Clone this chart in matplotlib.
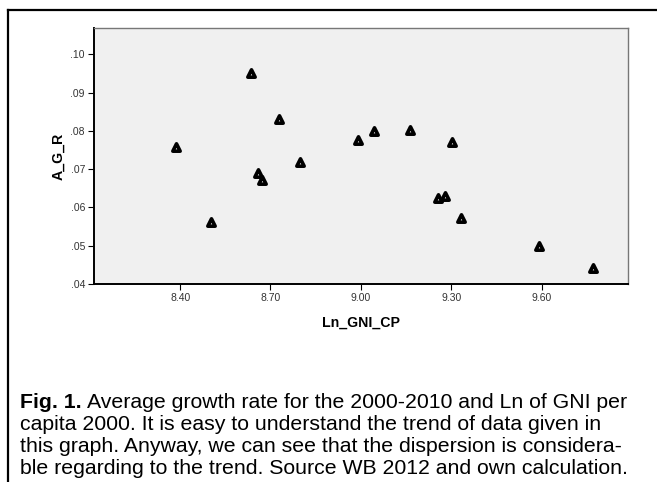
import matplotlib
matplotlib.use("Agg")
from matplotlib import pyplot as plt
from matplotlib.lines import Line2D

# data
ln_gni_cp = [8.387, 8.504, 8.636, 8.659, 8.673, 8.727, 8.799, 8.990,
             9.045, 9.162, 9.255, 9.279, 9.301, 9.332, 9.590, 9.772]
a_g_r = [0.0757, 0.0561, 0.0952, 0.0690, 0.0672, 0.0832, 0.0720, 0.0776,
         0.0801, 0.0802, 0.0626, 0.0630, 0.0772, 0.0572, 0.0498, 0.0442]
x_ticks = [8.40, 8.70, 9.00, 9.30, 9.60]
y_ticks = [0.04, 0.05, 0.06, 0.07, 0.08, 0.09, 0.10]
y_tick_labels = [".04", ".05", ".06", ".07", ".08", ".09", ".10"]

caption = ["Average growth rate for the 2000-2010 and Ln of GNI per",
           "capita 2000. It is easy to understand the trend of data given in",
           "this graph. Anyway, we can see that the dispersion is considera-",
           "ble regarding to the trend. Source WB 2012 and own calculation."]

W, H = 657, 482
fig = plt.figure(figsize=(W/100, H/100), dpi=100)
plt.rcParams['font.family'] = ['Liberation Sans', 'DejaVu Sans']

ax = fig.add_axes([94/W, 1 - 284/H, (628-94)/W, (284-28)/H])
ax.set_facecolor("#f0f0f0")
ax.scatter(ln_gni_cp, a_g_r, marker="^", s=28, facecolor="white",
           edgecolor="black", linewidth=2.6, zorder=3)
ax.set_xlim(8.114, 9.887)
ax.set_ylim(0.04, 0.1069)
ax.set_xticks(x_ticks)
ax.set_xticklabels(["%.2f" % v for v in x_ticks])
ax.set_yticks(y_ticks)
ax.set_yticklabels(y_tick_labels)
ax.tick_params(direction="out", length=4.5, width=0.8, labelsize=7.5,
               labelcolor="#333333", pad=2)
for s in ["left", "bottom"]:
    ax.spines[s].set_color("black")
    ax.spines[s].set_linewidth(1.4)
for s in ["top", "right"]:
    ax.spines[s].set_color("#777777")
    ax.spines[s].set_linewidth(1.0)
ax.set_xlabel("Ln_GNI_CP", fontsize=10.2, fontweight="bold", labelpad=9)
ax.set_ylabel("A_G_R", fontsize=10.2, fontweight="bold", labelpad=4)

# outer frame (top and left edges only)
fig.add_artist(Line2D([8/W, 1], [1 - 9.5/H, 1 - 9.5/H], color="black", lw=1.6))
fig.add_artist(Line2D([8/W, 8/W], [0, 1 - 9.5/H], color="black", lw=1.6))

cap_font = ['Liberation Sans', 'DejaVu Sans']
fs = 15.3
y0 = 402
head = fig.text(20/W, 1 - y0/H, "Fig. 1.", fontsize=fs, fontweight="bold",
                family=cap_font, va="center")
r = fig.canvas.get_renderer()
bb = head.get_window_extent(renderer=r)
fig.text((bb.x1 + 5)/W, 1 - y0/H, caption[0], fontsize=fs, family=cap_font,
         va="center")
for i, line in enumerate(caption[1:]):
    fig.text(20/W, 1 - (y0 + 22*(i+1))/H, line, fontsize=fs,
             family=cap_font, va="center")

fig.savefig("out.png", dpi=100)
